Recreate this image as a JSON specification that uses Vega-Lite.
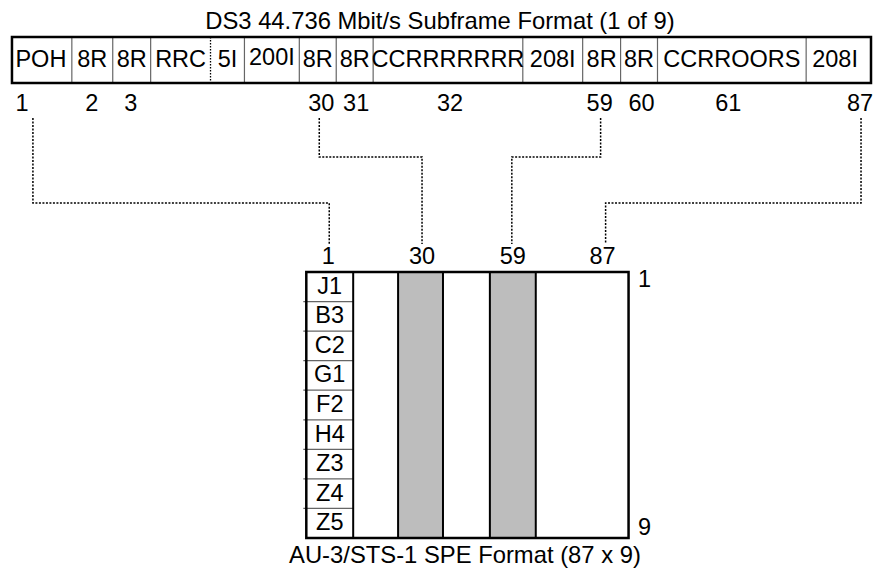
{
  "$schema": "https://vega.github.io/schema/vega-lite/v6.json",
  "width": 874,
  "height": 571,
  "padding": 0,
  "autosize": {"type": "fit", "contains": "padding"},
  "background": "white",
  "config": {"view": {"stroke": null}},
  "datasets": {
    "hatch": [
      {"x0": 399, "x1": 444, "y0": 272, "y1": 538},
      {"x0": 491, "x1": 537, "y0": 272, "y1": 538}
    ],
    "boxes": [
      {"name": "DS3 subframe", "x0": 12, "x1": 873, "y0": 37, "y1": 83},
      {"name": "SPE", "x0": 307, "x1": 630, "y0": 272, "y1": 538}
    ],
    "topDividers": [
      {"x": 72, "y0": 37, "y1": 83}, {"x": 113, "y0": 37, "y1": 83},
      {"x": 151, "y0": 37, "y1": 83}, {"x": 245, "y0": 37, "y1": 83},
      {"x": 300, "y0": 37, "y1": 83}, {"x": 337, "y0": 37, "y1": 83},
      {"x": 374, "y0": 37, "y1": 83}, {"x": 524, "y0": 37, "y1": 83},
      {"x": 584, "y0": 37, "y1": 83}, {"x": 622, "y0": 37, "y1": 83},
      {"x": 659, "y0": 37, "y1": 83}, {"x": 808, "y0": 37, "y1": 83}
    ],
    "dottedDivider": [{"x": 211, "y0": 37, "y1": 83}],
    "colDividers": [
      {"x": 354, "y0": 272, "y1": 538}, {"x": 399, "y0": 272, "y1": 538},
      {"x": 444, "y0": 272, "y1": 538}, {"x": 491, "y0": 272, "y1": 538},
      {"x": 537, "y0": 272, "y1": 538}
    ],
    "rowDividers": [
      {"y": 301.6, "x0": 304, "x1": 354}, {"y": 331.1, "x0": 304, "x1": 354},
      {"y": 360.7, "x0": 304, "x1": 354}, {"y": 390.2, "x0": 304, "x1": 354},
      {"y": 419.8, "x0": 304, "x1": 354}, {"y": 449.3, "x0": 304, "x1": 354},
      {"y": 478.9, "x0": 304, "x1": 354}, {"y": 508.4, "x0": 304, "x1": 354}
    ],
    "connectors": [
      {"path": "1", "step": 1, "x": 33, "y": 118}, {"path": "1", "step": 2, "x": 33, "y": 203},
      {"path": "1", "step": 3, "x": 330, "y": 203}, {"path": "1", "step": 4, "x": 330, "y": 244},
      {"path": "30", "step": 1, "x": 320, "y": 118}, {"path": "30", "step": 2, "x": 320, "y": 157},
      {"path": "30", "step": 3, "x": 423, "y": 157}, {"path": "30", "step": 4, "x": 423, "y": 244},
      {"path": "59", "step": 1, "x": 602, "y": 118}, {"path": "59", "step": 2, "x": 602, "y": 157},
      {"path": "59", "step": 3, "x": 513, "y": 157}, {"path": "59", "step": 4, "x": 513, "y": 244},
      {"path": "87", "step": 1, "x": 863, "y": 118}, {"path": "87", "step": 2, "x": 863, "y": 203},
      {"path": "87", "step": 3, "x": 607, "y": 203}, {"path": "87", "step": 4, "x": 607, "y": 244}
    ],
    "labels": [
      {"text": "POH", "x": 41, "y": 60}, {"text": "8R", "x": 92.5, "y": 60},
      {"text": "8R", "x": 132, "y": 60}, {"text": "RRC", "x": 181, "y": 60},
      {"text": "5I", "x": 228, "y": 60}, {"text": "200I", "x": 272.5, "y": 58},
      {"text": "8R", "x": 318.5, "y": 60}, {"text": "8R", "x": 355.5, "y": 60},
      {"text": "CCRRRRRRR", "x": 449, "y": 60}, {"text": "208I", "x": 554, "y": 60},
      {"text": "8R", "x": 603, "y": 60}, {"text": "8R", "x": 640.5, "y": 60},
      {"text": "CCRROORS", "x": 733.5, "y": 60}, {"text": "208I", "x": 837, "y": 60},
      {"text": "1", "x": 22, "y": 104}, {"text": "2", "x": 92, "y": 104},
      {"text": "3", "x": 131, "y": 104}, {"text": "30", "x": 322, "y": 104},
      {"text": "31", "x": 357, "y": 104}, {"text": "32", "x": 451, "y": 104},
      {"text": "59", "x": 601, "y": 104}, {"text": "60", "x": 643, "y": 104},
      {"text": "61", "x": 730, "y": 104}, {"text": "87", "x": 862, "y": 104},
      {"text": "1", "x": 329, "y": 257}, {"text": "30", "x": 423, "y": 257},
      {"text": "59", "x": 514, "y": 257}, {"text": "87", "x": 604, "y": 257},
      {"text": "1", "x": 646, "y": 280}, {"text": "9", "x": 646, "y": 528},
      {"text": "J1", "x": 330.5, "y": 286.8}, {"text": "B3", "x": 330.5, "y": 316.3},
      {"text": "C2", "x": 330.5, "y": 345.9}, {"text": "G1", "x": 330.5, "y": 375.4},
      {"text": "F2", "x": 330.5, "y": 405.0}, {"text": "H4", "x": 330.5, "y": 434.6},
      {"text": "Z3", "x": 330.5, "y": 464.1}, {"text": "Z4", "x": 330.5, "y": 493.7},
      {"text": "Z5", "x": 330.5, "y": 523.2}
    ],
    "titles": [
      {"text": "DS3 44.736 Mbit/s Subframe Format (1 of 9)", "x": 441, "y": 22},
      {"text": "AU-3/STS-1 SPE Format (87 x 9)", "x": 466, "y": 556}
    ]
  },
  "layer": [
    {
      "data": {"name": "hatch"},
      "mark": {"type": "rect", "fill": "#bdbdbd"},
      "encoding": {
        "x": {"field": "x0", "type": "quantitative", "scale": {"domain": [0, 874], "nice": false, "zero": false}, "axis": null},
        "x2": {"field": "x1"},
        "y": {"field": "y0", "type": "quantitative", "scale": {"domain": [0, 571], "nice": false, "zero": false, "reverse": true}, "axis": null},
        "y2": {"field": "y1"}
      }
    },
    {
      "data": {"name": "topDividers"},
      "mark": {"type": "rule", "stroke": "#666666", "strokeWidth": 1.2},
      "encoding": {
        "x": {"field": "x", "type": "quantitative"},
        "y": {"field": "y0", "type": "quantitative"},
        "y2": {"field": "y1"}
      }
    },
    {
      "data": {"name": "dottedDivider"},
      "mark": {"type": "rule", "stroke": "#000000", "strokeWidth": 1.3, "strokeDash": [1.5, 1.5]},
      "encoding": {
        "x": {"field": "x", "type": "quantitative"},
        "y": {"field": "y0", "type": "quantitative"},
        "y2": {"field": "y1"}
      }
    },
    {
      "data": {"name": "rowDividers"},
      "mark": {"type": "rule", "stroke": "#666666", "strokeWidth": 1.2},
      "encoding": {
        "y": {"field": "y", "type": "quantitative"},
        "x": {"field": "x0", "type": "quantitative"},
        "x2": {"field": "x1"}
      }
    },
    {
      "data": {"name": "colDividers"},
      "mark": {"type": "rule", "stroke": "#000000", "strokeWidth": 2},
      "encoding": {
        "x": {"field": "x", "type": "quantitative"},
        "y": {"field": "y0", "type": "quantitative"},
        "y2": {"field": "y1"}
      }
    },
    {
      "data": {"name": "boxes"},
      "mark": {"type": "rect", "fill": null, "fillOpacity": 0, "stroke": "#000000", "strokeWidth": 2.5},
      "encoding": {
        "x": {"field": "x0", "type": "quantitative"},
        "x2": {"field": "x1"},
        "y": {"field": "y0", "type": "quantitative"},
        "y2": {"field": "y1"}
      }
    },
    {
      "data": {"name": "connectors"},
      "mark": {"type": "line", "stroke": "#000000", "strokeWidth": 1.5, "strokeDash": [2, 1.5], "interpolate": "linear"},
      "encoding": {
        "x": {"field": "x", "type": "quantitative"},
        "y": {"field": "y", "type": "quantitative"},
        "detail": {"field": "path", "type": "nominal"},
        "order": {"field": "step", "type": "quantitative"}
      }
    },
    {
      "data": {"name": "labels"},
      "mark": {"type": "text", "font": "Liberation Sans", "fontSize": 23.5, "baseline": "middle", "align": "center", "color": "#000000"},
      "encoding": {
        "x": {"field": "x", "type": "quantitative"},
        "y": {"field": "y", "type": "quantitative"},
        "text": {"field": "text", "type": "nominal"}
      }
    },
    {
      "data": {"name": "titles"},
      "mark": {"type": "text", "font": "Liberation Sans", "fontSize": 23.8, "baseline": "middle", "align": "center", "color": "#000000"},
      "encoding": {
        "x": {"field": "x", "type": "quantitative"},
        "y": {"field": "y", "type": "quantitative"},
        "text": {"field": "text", "type": "nominal"}
      }
    }
  ]
}
